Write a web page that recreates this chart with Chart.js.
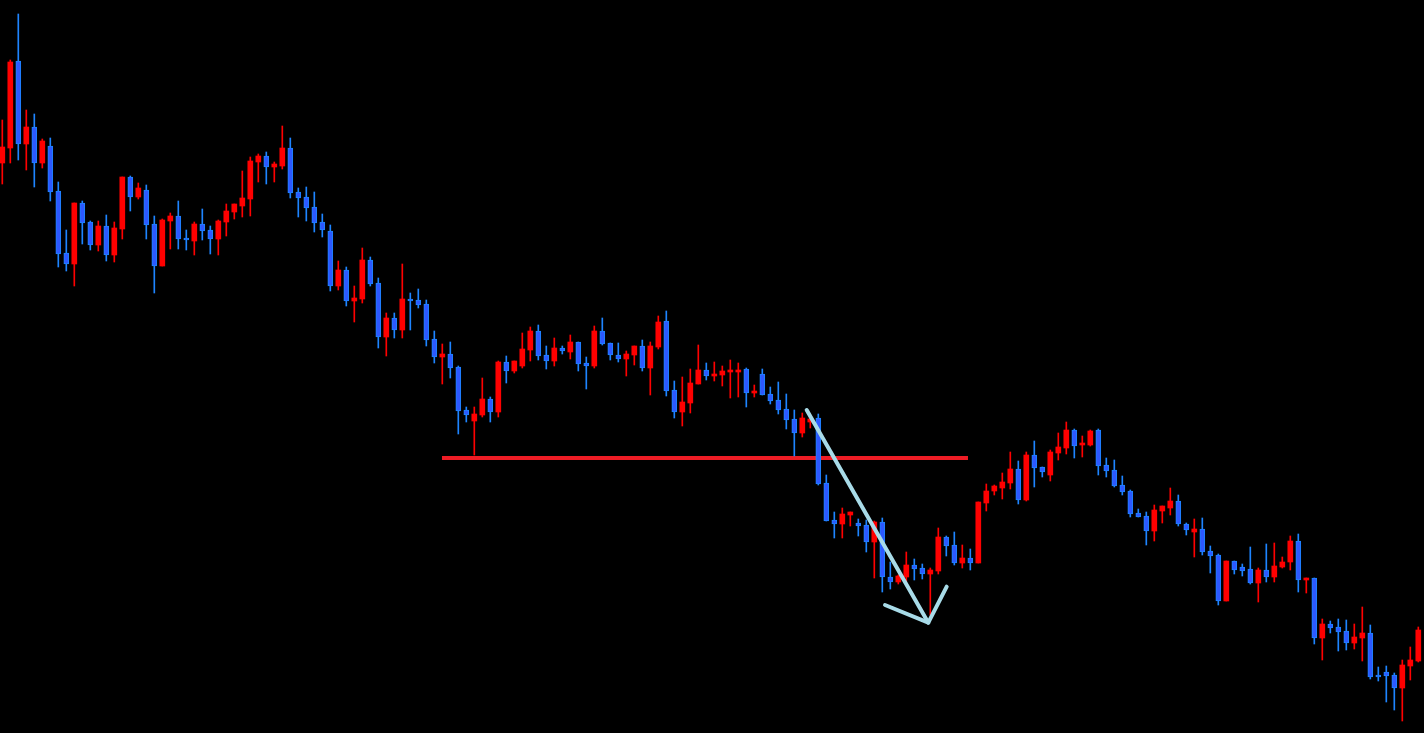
<!DOCTYPE html>
<html>
<head>
<meta charset="utf-8">
<script src="https://cdn.jsdelivr.net/npm/chart.js@4.4.0/dist/chart.umd.min.js"></script>
<style>
  html, body { margin: 0; padding: 0; background: #000; overflow: hidden; }
  #wrap { width: 1424px; height: 733px; position: relative; }
</style>
</head>
<body>
<div id="wrap"><canvas id="candles"></canvas></div>
<script>
// OHLC (price in points)
const opens = [
  837,852,939,856,873,837,854,809,747,736, 797,778,755,774,745,771,823,803,810,776,
  734,779,784,762,759,776,770,761,778,788, 794,801,838,844,833,834,852,808,803,793,
  778,769,714,730,699,701,740,717,663,682, 670,701,700,696,661,643,646,633,590,579,
  585,601,588,638,629,634,650,669,645,639, 652,648,658,637,634,669,657,645,641,645,
  654,632,653,679,610,588,597,616,630,624, 625,628,628,631,607,626,606,600,591,581,
  567,578,582,517,480,476,485,477,475,458, 478,423,418,423,435,432,426,429,463,455,
  437,442,437,497,509,512,517,531,500,545, 533,525,547,552,570,555,555,570,535,530,
  515,509,487,484,469,489,492,499,476,468, 471,449,445,399,439,433,431,417,430,423,
  433,438,459,420,422,362,376,373,369,357, 362,367,324,328,325,312,334,339
];
const highs = [
  880,940,986,890,886,861,862,818,770,797, 799,779,779,785,778,823,824,817,815,784,
  781,787,799,770,778,791,774,780,796,796, 829,843,846,848,838,874,862,812,813,808,
  786,775,739,733,714,752,743,722,687,687, 736,707,711,700,669,656,658,634,593,593,
  622,603,639,644,639,667,673,675,654,662, 654,665,658,643,674,682,657,657,649,654,
  660,658,684,689,619,623,631,655,637,638, 634,640,637,632,615,631,613,618,606,590,
  587,582,586,525,488,492,488,481,480,479, 482,438,425,448,441,436,432,472,464,468,
  455,451,498,516,515,527,548,539,548,559, 533,550,567,578,571,564,570,571,542,540,
  524,510,491,488,495,494,512,505,477,481, 482,454,446,439,439,436,453,432,456,457,
  443,464,466,422,422,381,379,381,380,376, 393,375,333,334,327,340,353,373
];
const lows = [
  816,837,840,830,813,832,799,733,729,714, 756,750,749,739,738,761,789,801,761,707,
  734,751,751,750,745,760,746,745,764,781, 783,784,818,816,818,831,802,783,779,768,
  763,709,710,694,678,697,714,652,644,662, 662,670,692,654,637,616,622,566,578,545,
  583,578,583,617,627,632,639,640,631,634, 646,641,629,611,632,655,640,638,624,635,
  629,605,651,604,582,574,587,616,620,619, 614,602,603,593,603,605,596,586,571,544,
  563,572,515,479,462,462,474,464,448,422, 408,411,416,418,420,421,385,426,444,435,
  432,430,437,489,505,501,511,496,499,513, 523,519,540,546,542,543,554,525,523,513,
  505,483,483,455,459,477,485,474,465,443, 445,427,395,399,426,424,416,398,418,418,
  432,430,408,407,356,340,367,349,350,351, 339,321,319,298,290,279,320,338
];
const closes = [
  853,938,856,873,837,859,808,746,736,797, 777,755,774,745,772,823,803,812,775,734,
  780,784,761,760,776,769,761,779,789,796, 802,839,844,833,836,852,807,802,792,777,
  770,714,730,699,702,740,716,663,682,670, 701,699,695,660,643,646,632,589,585,586,
  601,588,638,629,639,651,669,644,639,652, 649,658,636,634,669,656,645,641,646,654,
  632,654,678,609,588,598,617,630,624,626, 629,629,630,607,609,605,599,590,580,567,
  582,581,516,479,476,486,488,474,458,478, 423,418,424,435,431,426,430,463,454,437,
  442,437,498,509,514,518,531,500,545,532, 528,548,553,570,554,556,569,534,529,514,
  508,486,483,469,490,494,499,476,470,471, 448,444,399,439,430,429,417,430,423,434,
  438,459,420,422,362,376,372,368,357,363, 367,323,323,324,312,335,340,370
];

// support line and drawn arrow (bar index, price)
const levelLine = [{ x: 54.96, y: 542 }, { x: 120.71, y: 542 }];
const arrowShaft = [{ x: 100.55, y: 590 }, { x: 115.75, y: 377.3 }];
const arrowHead = [{ x: 110.34, y: 395 }, { x: 115.75, y: 377.3 }, { x: 118.05, y: 413.3 }];

const BULL = "#ff0000";
const BEAR_FILL = "#2d58ff";
const BEAR_EDGE = "#1e84ff";

const isUp = opens.map((o, i) => closes[i] > o);
const wickData = opens.map((o, i) => ({ x: i, y: [lows[i], highs[i]] }));
const bodyData = opens.map((o, i) => ({ x: i, y: [o, closes[i]] }));

new Chart(document.getElementById("candles"), {
  type: "bar",
  data: {
    datasets: [
      {
        type: "line",
        data: levelLine,
        borderColor: "#ee1c25",
        borderWidth: 4,
        pointRadius: 0,
        order: 3
      },
      {
        data: wickData,
        backgroundColor: isUp.map(u => u ? BULL : BEAR_EDGE),
        barThickness: 1,
        grouped: false,
        order: 2
      },
      {
        data: bodyData,
        backgroundColor: isUp.map(u => u ? BULL : BEAR_FILL),
        borderColor: isUp.map(u => u ? BULL : BEAR_EDGE),
        borderWidth: isUp.map(u => u ? 0 : 1),
        borderSkipped: false,
        barThickness: 5,
        minBarLength: 2,
        grouped: false,
        order: 1
      },
      {
        type: "line",
        data: arrowShaft,
        borderColor: "#a8dbe8",
        borderWidth: 4,
        borderCapStyle: "round",
        pointRadius: 0,
        order: 0
      },
      {
        type: "line",
        data: arrowHead,
        borderColor: "#a8dbe8",
        borderWidth: 4,
        borderCapStyle: "round",
        borderJoinStyle: "round",
        pointRadius: 0,
        order: 0
      }
    ]
  },
  options: {
    responsive: true,
    maintainAspectRatio: false,
    animation: false,
    layout: { padding: 0 },
    plugins: { legend: { display: false }, tooltip: { enabled: false } },
    scales: {
      x: { type: "linear", min: -0.2875, max: 177.7125, offset: false, bounds: "ticks", display: false },
      y: { min: 267, max: 1000, display: false }
    }
  }
});
</script>
</body>
</html>
